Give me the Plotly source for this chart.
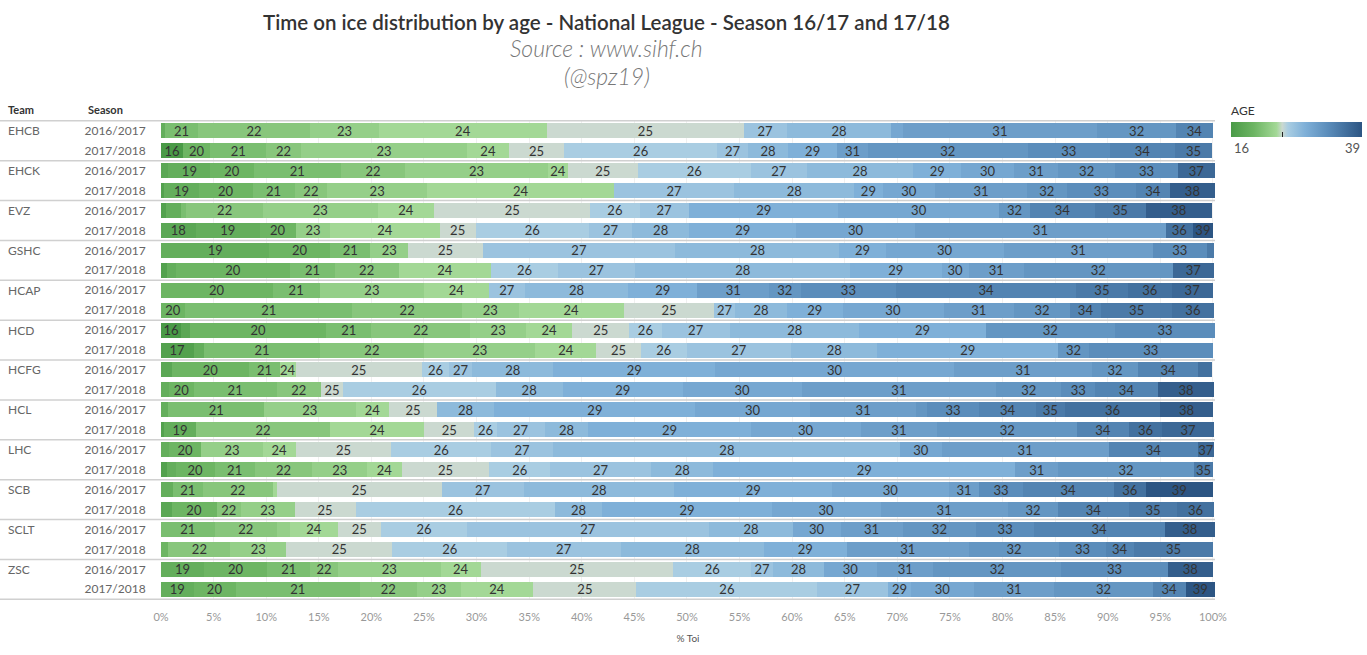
import plotly.graph_objs as go
from plotly.colors import sample_colorscale

# Teams and seasons (row order, top to bottom)
teams = ["EHCB", "EHCK", "EVZ", "GSHC", "HCAP", "HCD", "HCFG", "HCL", "LHC", "SCB", "SCLT", "ZSC"]
seasons = ["2016/2017", "2017/2018"]

# Age and % of time on ice per team / season
ehcb_1617_age = [19, 21, 22, 23, 24, 25, 27, 28, 30, 31, 32, 34]
ehcb_1617_toi = [0.4, 3.1, 10.7, 6.5, 16.0, 18.7, 4.1, 9.9, 1.1, 18.5, 7.5, 3.5]
ehcb_1718_age = [16, 20, 21, 22, 23, 24, 25, 26, 27, 28, 29, 31, 32, 33, 34, 35]
ehcb_1718_toi = [2.1, 2.6, 5.3, 3.3, 15.8, 4.0, 5.2, 14.6, 2.9, 3.8, 4.7, 2.9, 15.2, 7.8, 6.2, 3.5]

ehck_1617_age = [18, 19, 20, 21, 22, 23, 24, 25, 26, 27, 28, 29, 30, 31, 32, 33, 37]
ehck_1617_toi = [0.7, 4.0, 4.1, 8.3, 6.1, 13.6, 1.9, 6.6, 10.8, 5.3, 10.1, 4.6, 5.0, 4.2, 5.4, 6.0, 3.5]
ehck_1718_age = [17, 19, 20, 21, 22, 23, 24, 27, 28, 29, 30, 31, 32, 33, 34, 38]
ehck_1718_toi = [0.3, 3.3, 5.1, 4.0, 3.1, 9.5, 17.8, 11.4, 11.4, 2.7, 5.0, 8.7, 3.8, 6.6, 3.2, 4.3]

evz_1617_age = [17, 19, 21, 22, 23, 24, 25, 26, 27, 29, 30, 32, 34, 35, 38]
evz_1617_toi = [0.5, 1.4, 0.5, 7.3, 10.9, 5.4, 14.8, 4.7, 4.7, 14.2, 15.3, 2.9, 6.2, 4.8, 6.3]
evz_1718_age = [18, 19, 20, 23, 24, 25, 26, 27, 28, 29, 30, 31, 36, 39]
evz_1718_toi = [3.3, 6.1, 3.4, 3.3, 10.4, 3.4, 10.8, 4.1, 5.4, 10.2, 11.3, 23.8, 2.6, 1.9]

gshc_1617_age = [19, 20, 21, 23, 25, 27, 28, 29, 30, 31, 33, 35]
gshc_1617_toi = [10.3, 5.8, 3.8, 3.6, 7.1, 18.3, 15.6, 4.4, 11.2, 14.2, 5.1, 0.7]
gshc_1718_age = [17, 19, 20, 21, 22, 24, 26, 27, 28, 29, 30, 31, 32, 37]
gshc_1718_toi = [0.6, 0.8, 10.9, 4.2, 6.1, 8.8, 6.3, 7.4, 20.4, 8.7, 2.6, 5.2, 14.2, 3.9]

hcap_1617_age = [20, 21, 23, 24, 27, 28, 29, 31, 32, 33, 34, 35, 36, 37]
hcap_1617_toi = [10.6, 4.5, 9.9, 6.2, 3.4, 9.8, 6.6, 6.8, 3.0, 9.1, 17.1, 4.9, 4.2, 3.9]
hcap_1718_age = [20, 21, 22, 23, 24, 25, 27, 28, 29, 30, 31, 32, 34, 35, 36]
hcap_1718_toi = [2.3, 15.9, 10.4, 5.4, 10.0, 8.6, 2.0, 4.9, 5.3, 9.6, 6.7, 5.3, 3.0, 6.7, 4.0]

hcd_1617_age = [16, 18, 20, 21, 22, 23, 24, 25, 26, 27, 28, 29, 32, 33]
hcd_1617_toi = [1.9, 0.9, 12.9, 4.3, 9.4, 5.3, 4.4, 5.4, 3.1, 6.5, 12.3, 12.0, 12.3, 9.5]
hcd_1718_age = [17, 19, 21, 22, 23, 24, 25, 26, 27, 28, 29, 32, 33]
hcd_1718_toi = [3.1, 1.0, 11.0, 9.9, 10.6, 5.8, 4.2, 4.4, 9.9, 8.2, 17.2, 2.9, 11.8]

hcfg_1617_age = [18, 20, 21, 24, 25, 26, 27, 28, 29, 30, 31, 32, 34, 36]
hcfg_1617_toi = [1.0, 7.4, 2.9, 1.5, 12.0, 2.6, 2.2, 7.7, 15.4, 22.7, 13.1, 4.4, 5.7, 1.3]
hcfg_1718_age = [19, 20, 21, 22, 25, 26, 28, 29, 30, 31, 32, 33, 34, 38]
hcfg_1718_toi = [0.8, 2.3, 7.9, 4.2, 2.1, 14.5, 6.4, 11.4, 11.3, 18.5, 6.2, 3.2, 6.0, 5.3]

hcl_1617_age = [19, 21, 23, 24, 25, 28, 29, 30, 31, 32, 33, 34, 35, 36, 38]
hcl_1617_toi = [0.7, 9.1, 8.7, 3.2, 4.5, 5.5, 19.1, 10.9, 10.1, 1.0, 5.0, 5.4, 2.7, 9.1, 5.0]
hcl_1718_age = [17, 19, 22, 24, 25, 26, 27, 28, 29, 30, 31, 32, 34, 36, 37]
hcl_1718_toi = [0.3, 3.0, 12.8, 8.9, 4.8, 2.1, 4.6, 4.1, 15.5, 10.4, 7.3, 13.3, 4.9, 3.2, 4.9]

lhc_1617_age = [19, 20, 23, 24, 25, 26, 27, 28, 30, 31, 34, 37]
lhc_1617_toi = [0.8, 3.0, 5.9, 3.1, 9.1, 9.5, 5.9, 33.0, 3.9, 15.9, 8.5, 1.5]
lhc_1718_age = [17, 19, 20, 21, 22, 23, 24, 25, 26, 27, 28, 29, 31, 32, 35]
lhc_1718_toi = [0.6, 0.8, 3.7, 3.8, 5.5, 5.2, 3.3, 8.3, 5.8, 9.6, 5.9, 28.7, 4.1, 12.9, 1.8]

scb_1617_age = [19, 21, 22, 24, 25, 27, 28, 29, 30, 31, 33, 34, 36, 39]
scb_1617_toi = [1.1, 2.9, 6.6, 0.4, 15.7, 7.8, 14.3, 15.0, 11.1, 2.9, 4.1, 8.7, 3.0, 6.4]
scb_1718_age = [18, 20, 22, 23, 25, 26, 28, 29, 30, 31, 32, 34, 35, 36]
scb_1718_toi = [1.0, 4.3, 2.3, 5.1, 5.8, 19.0, 4.4, 16.2, 10.3, 12.1, 4.8, 6.7, 4.6, 3.5]

sclt_1617_age = [21, 22, 23, 24, 25, 26, 27, 28, 30, 31, 32, 33, 34, 38]
sclt_1617_toi = [5.1, 5.9, 1.3, 4.5, 4.1, 8.2, 23.0, 8.0, 4.5, 5.9, 7.0, 5.5, 12.4, 4.8]
sclt_1718_age = [20, 22, 23, 25, 26, 27, 28, 29, 31, 32, 33, 34, 35]
sclt_1718_toi = [0.7, 5.9, 5.3, 10.1, 10.9, 10.8, 13.6, 7.9, 11.6, 8.6, 4.4, 2.7, 7.5]

zsc_1617_age = [19, 20, 21, 22, 23, 24, 25, 26, 27, 28, 30, 31, 32, 33, 38]
zsc_1617_toi = [4.1, 6.0, 4.1, 2.6, 9.8, 3.8, 18.3, 7.4, 2.1, 4.8, 5.1, 5.3, 12.2, 10.1, 4.3]
zsc_1718_age = [19, 20, 21, 22, 23, 24, 25, 26, 27, 29, 30, 31, 32, 34, 39]
zsc_1718_toi = [3.1, 4.0, 11.8, 5.4, 4.2, 6.9, 9.8, 17.2, 6.7, 2.2, 6.0, 7.6, 9.4, 3.1, 2.8]

age_min, age_max = 16, 39

# One (ages, toi) pair per row, same order as teams x seasons
row_data = [
    (ehcb_1617_age, ehcb_1617_toi), (ehcb_1718_age, ehcb_1718_toi),
    (ehck_1617_age, ehck_1617_toi), (ehck_1718_age, ehck_1718_toi),
    (evz_1617_age, evz_1617_toi), (evz_1718_age, evz_1718_toi),
    (gshc_1617_age, gshc_1617_toi), (gshc_1718_age, gshc_1718_toi),
    (hcap_1617_age, hcap_1617_toi), (hcap_1718_age, hcap_1718_toi),
    (hcd_1617_age, hcd_1617_toi), (hcd_1718_age, hcd_1718_toi),
    (hcfg_1617_age, hcfg_1617_toi), (hcfg_1718_age, hcfg_1718_toi),
    (hcl_1617_age, hcl_1617_toi), (hcl_1718_age, hcl_1718_toi),
    (lhc_1617_age, lhc_1617_toi), (lhc_1718_age, lhc_1718_toi),
    (scb_1617_age, scb_1617_toi), (scb_1718_age, scb_1718_toi),
    (sclt_1617_age, sclt_1617_toi), (sclt_1718_age, sclt_1718_toi),
    (zsc_1617_age, zsc_1617_toi), (zsc_1718_age, zsc_1718_toi),
]
row_keys = [f"{t} {s}" for t in teams for s in seasons]
row_seasons = [s for t in teams for s in seasons]

# Green - grey - blue diverging scale (Tableau like)
age_scale = [
    [0.0, "#4a9a47"], [0.174, "#6db563"], [0.348, "#a3d896"], [0.391, "#cbd9d0"],
    [0.435, "#a9cde2"], [0.565, "#7fb0d8"], [0.739, "#5b8dbb"], [1.0, "#2c5583"],
]
min_label_share = 1.45  # segments narrower than this get no age label


def age_color(age):
    return sample_colorscale(age_scale, [(age - age_min) / (age_max - age_min)])[0]


fig = go.Figure()

# One trace per age so the segments stack in age order
for age in range(age_min, age_max + 1):
    xs, texts = [], []
    for ages, toi in row_data:
        if age in ages:
            share = toi[ages.index(age)]
            xs.append(share)
            texts.append(str(age) if share >= min_label_share else "")
        else:
            xs.append(None)
            texts.append("")
    if all(v is None for v in xs):
        continue
    fig.add_trace(go.Bar(
        y=row_keys,
        x=xs,
        orientation="h",
        marker=dict(color=age_color(age), line=dict(width=0)),
        text=texts,
        textposition="inside",
        insidetextanchor="middle",
        textangle=0,
        constraintext="none",
        textfont=dict(family="Lato", size=13, color="#333333"),
        name=str(age),
        showlegend=False,
        hovertemplate=f"Age: {age}   %{{y}}   %{{x:.1f}}%<extra></extra>",
    ))

# Dummy trace only to show the AGE colour legend
fig.add_trace(go.Scatter(
    x=[None], y=[None], mode="markers", showlegend=False, hoverinfo="skip",
    marker=dict(
        color=[age_min], cmin=age_min, cmax=age_max, colorscale=age_scale, showscale=True,
        colorbar=dict(
            orientation="h", x=(1231 - 161) / 1054, xanchor="left",
            y=(600 - 142) / 480, yanchor="bottom",
            len=131, lenmode="pixels", thickness=15, outlinewidth=0, xpad=0, ypad=0,
            tickvals=[25], ticks="inside", ticklen=5, tickcolor="#222222", showticklabels=False,
        ),
    ),
))

# Row separators between teams (extend under the row headers)
for i in range(len(teams) + 1):
    fig.add_shape(type="line", xref="paper", yref="y", x0=-161 / 1054, x1=1,
                  y0=2 * i - 0.5, y1=2 * i - 0.5, line=dict(color="#d0d0d0", width=1.5))

annotations = []
for i, team in enumerate(teams):
    annotations.append(dict(text=team, xref="paper", yref="y", x=-155 / 1054, y=row_keys[2 * i],
                            xanchor="left", yanchor="middle", showarrow=False,
                            font=dict(family="Lato", size=12, color="#666666")))


def page_note(text, x, y, size, color, xanchor="center", weight="normal"):
    # free text placed in paper coordinates (plot area: x 161-1215 px, y 120-600 px)
    return dict(text=text, xref="paper", yref="paper", x=x, y=y, xanchor=xanchor, yanchor="middle",
                showarrow=False, font=dict(family="Lato", size=size, color=color, weight=weight))


annotations += [
    page_note("Team", -155 / 1054, 1.021, 11, "#333333", "left", "bold"),
    page_note("Season", -75 / 1054, 1.021, 11, "#333333", "left", "bold"),
    page_note("Time on ice distribution by age - National League - Season 16/17 and 17/18",
              0.423, (600 - 22) / 480, 20.5, "#333333", weight=600),
    page_note("<i>Source : www.sihf.ch</i>", 0.423, (600 - 48) / 480, 23, "#777777", weight=300),
    page_note("<i>(@spz19)</i>", 0.423, (600 - 76) / 480, 23, "#777777", weight=300),
    page_note("AGE", (1229 - 161) / 1054, (600 - 111) / 480, 12, "#333333", "left"),
    page_note("16", (1232 - 161) / 1054, (600 - 148) / 480, 13, "#555555", "left"),
    page_note("39", (1362 - 161) / 1054, (600 - 148) / 480, 13, "#555555", "right"),
]

fig.update_layout(
    width=1367, height=655,
    margin=dict(l=161, r=152, t=120, b=55, autoexpand=False),
    barmode="stack",
    bargap=0.25,
    plot_bgcolor="white",
    paper_bgcolor="white",
    font=dict(family="Lato", color="#666666"),
    annotations=annotations,
    xaxis=dict(
        range=[0, 100.2], dtick=5, ticksuffix="%", showgrid=True, gridcolor="#f0f0f0",
        zeroline=False, tickfont=dict(size=11, color="#999999"),
        ticks="outside", ticklen=7, tickcolor="white",
        title=dict(text="% Toi", font=dict(size=10, color="#555555"), standoff=12),
        fixedrange=True,
    ),
    yaxis=dict(
        type="category", categoryorder="array", categoryarray=row_keys, autorange="reversed",
        tickvals=row_keys, ticktext=row_seasons, ticks="outside", ticklen=12, tickcolor="white",
        showgrid=False, zeroline=False, tickfont=dict(size=12, color="#666666"),
        fixedrange=True,
    ),
)

# page margin off so the 1367x655 figure sits at the window origin
fig.write_html("out.html", config={"displayModeBar": False},
               post_script="document.body.style.margin = '0';")
